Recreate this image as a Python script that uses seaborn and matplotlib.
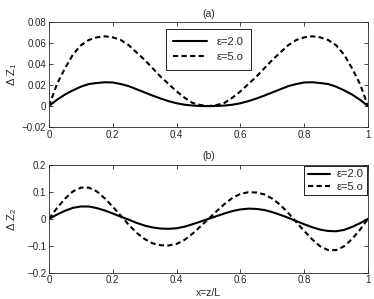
import numpy as np
import pandas as pd
import matplotlib
matplotlib.use("Agg")
import matplotlib.pyplot as plt
import seaborn as sns

# x = z/L sample positions (read every 0.025)
x_vals = [round(i * 0.025, 3) for i in range(41)]

# panel (a): Delta Z_1
dz1_eps2 = [0.000, 0.006, 0.011, 0.015, 0.0185, 0.021, 0.022, 0.0227, 0.0225, 0.021,
            0.019, 0.016, 0.013, 0.010, 0.0072, 0.0047, 0.0027, 0.0013, 0.0005, 0.0001,
            0.000,
            0.0001, 0.0005, 0.0013, 0.0027, 0.0047, 0.0072, 0.010, 0.013, 0.016, 0.019,
            0.021, 0.0225, 0.0227, 0.022, 0.021, 0.0185, 0.015, 0.011, 0.006, 0.000]
dz1_eps5 = [0.000, 0.021, 0.036, 0.049, 0.058, 0.063, 0.0655, 0.0665, 0.0655, 0.063,
            0.058, 0.051, 0.044, 0.036, 0.028, 0.021, 0.014, 0.008, 0.003, 0.001,
            0.000,
            0.001, 0.003, 0.008, 0.014, 0.021, 0.028, 0.036, 0.044, 0.051, 0.058,
            0.063, 0.0655, 0.0665, 0.0655, 0.063, 0.058, 0.049, 0.036, 0.021, 0.000]

# panel (b): Delta Z_2
dz2_eps2 = [0.000, 0.016, 0.030, 0.041, 0.046, 0.046, 0.040, 0.031, 0.020, 0.008,
            -0.003, -0.015, -0.025, -0.032, -0.036, -0.037, -0.035, -0.029, -0.020, -0.010,
            0.000, 0.010, 0.020, 0.029, 0.035, 0.038, 0.037, 0.033, 0.025, 0.015,
            0.004, -0.008, -0.020, -0.031, -0.040, -0.045, -0.046, -0.041, -0.030, -0.016,
            0.000]
dz2_eps5 = [0.000, 0.040, 0.075, 0.102, 0.116, 0.116, 0.102, 0.076, 0.045, 0.012,
            -0.022, -0.052, -0.075, -0.091, -0.098, -0.099, -0.093, -0.078, -0.055, -0.028,
            0.000, 0.028, 0.055, 0.078, 0.093, 0.099, 0.098, 0.091, 0.075, 0.052,
            0.022, -0.012, -0.045, -0.076, -0.102, -0.116, -0.116, -0.102, -0.075, -0.040,
            0.000]

labels = ["ε=2.0", "ε=5.o"]

sns.set_style("ticks")
plt.rcParams["font.family"] = ["Liberation Sans", "DejaVu Sans"]
plt.rcParams["xtick.direction"] = "in"
plt.rcParams["ytick.direction"] = "in"
plt.rcParams["mathtext.fontset"] = "custom"
plt.rcParams["mathtext.rm"] = "Liberation Sans"
plt.rcParams["mathtext.it"] = "Liberation Sans"


def long_df(a, b):
    return pd.DataFrame({
        "x": x_vals + x_vals,
        "dz": a + b,
        "eps": [labels[0]] * len(a) + [labels[1]] * len(b),
    })


fig = plt.figure(figsize=(3.74, 2.99), dpi=100)
ax1 = fig.add_axes([0.131, 0.575, 0.853, 0.351])
ax2 = fig.add_axes([0.131, 0.088, 0.853, 0.360])

panels = [
    (ax1, long_df(dz1_eps2, dz1_eps5), (-0.02, 0.08), np.arange(-0.02, 0.081, 0.02),
     "Δ Z$_1$", "(a)"),
    (ax2, long_df(dz2_eps2, dz2_eps5), (-0.2, 0.2), np.arange(-0.2, 0.21, 0.1),
     "Δ Z$_2$", "(b)"),
]

for ax, df, ylim, yticks, ylab, title in panels:
    sns.lineplot(data=df, x="x", y="dz", hue="eps", style="eps",
                 palette=["black", "black"], dashes=[(None, None), (2.5, 1.6)],
                 linewidth=1.5, ax=ax, legend=True)
    ax.set_xlim(0, 1)
    ax.set_ylim(*ylim)
    ax.set_yticks(yticks)
    ax.set_yticklabels([("%g" % round(v, 3)).replace("-", "\u2212") for v in yticks])
    ax.set_xticks(np.arange(0, 1.01, 0.2))
    ax.set_xticklabels(["0", "0.2", "0.4", "0.6", "0.8", "1"])
    ax.tick_params(labelsize=7, length=3, width=0.6, top=True, right=True, pad=2)
    for s in ax.spines.values():
        s.set_linewidth(0.6)
    ax.set_title(title, fontsize=7.5, pad=4)
    ax.set_ylabel(ylab, fontsize=8)
    # same horizontal spot for both y labels
    ax.yaxis.set_label_coords(-0.095, 0.5)

ax1.set_xlabel("")
ax2.set_xlabel("x=z/L", fontsize=7.5, labelpad=2)

h, l = ax1.get_legend_handles_labels()
ax1.legend(h, l, loc="upper center", bbox_to_anchor=(0.5, 0.985), fontsize=8,
           frameon=True, fancybox=False, edgecolor="black", framealpha=1,
           handlelength=3.0, handletextpad=0.9, borderpad=0.7, labelspacing=0.45)
ax1.get_legend().get_frame().set_linewidth(0.6)
h, l = ax2.get_legend_handles_labels()
ax2.legend(h, l, loc="upper right", fontsize=8, frameon=True, fancybox=False,
           edgecolor="black", framealpha=1, handlelength=2.0, handletextpad=0.6,
           borderpad=0.3, labelspacing=0.2, borderaxespad=0.1)
ax2.get_legend().get_frame().set_linewidth(0.6)

fig.savefig("out.png", dpi=100)
